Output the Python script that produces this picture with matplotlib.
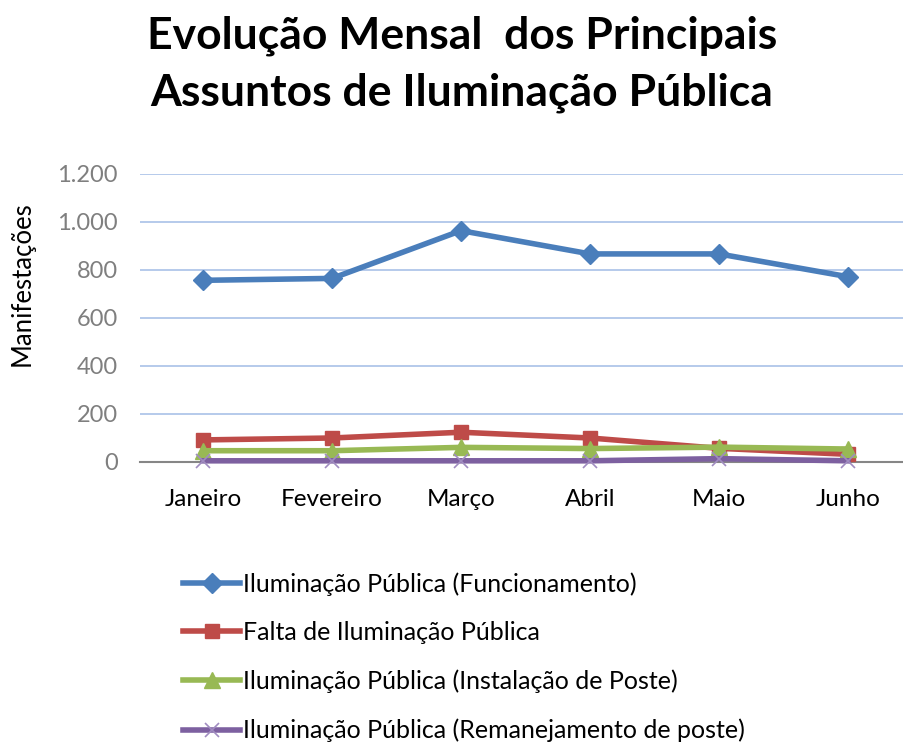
import matplotlib
matplotlib.use("Agg")
import matplotlib.pyplot as plt
from matplotlib.ticker import FuncFormatter

months = ["Janeiro", "Fevereiro", "Março", "Abril", "Maio", "Junho"]
funcionamento = [757, 765, 964, 867, 867, 772]
falta = [92, 100, 124, 100, 57, 32]
instalacao = [47, 47, 61, 56, 62, 54]
remanejamento = [5, 5, 5, 5, 14, 5]

labels = [
    "Iluminação Pública (Funcionamento)",
    "Falta de Iluminação Pública",
    "Iluminação Pública (Instalação de Poste)",
    "Iluminação Pública (Remanejamento de poste)",
]
yticks = [0, 200, 400, 600, 800, 1000, 1200]

plt.rcParams['font.family'] = ['Lato', 'DejaVu Sans']

W, H = 904, 742
fig = plt.figure(figsize=(W / 100, H / 100), dpi=100)
ax = fig.add_axes([140 / W, 1 - 462 / H, (904 - 140) / W, (462 - 174) / H])

x = list(range(len(months)))
series = [
    (funcionamento, "#4A7EBB", "D", 10, dict(markerfacecolor="#4A7EBB", markeredgecolor="#4A7EBB")),
    (falta, "#BE4B48", "s", 10, dict(markerfacecolor="#BE4B48", markeredgecolor="#BE4B48")),
    (instalacao, "#98B954", "^", 11, dict(markerfacecolor="#98B954", markeredgecolor="#98B954")),
    (remanejamento, "#7D60A0", "x", 10, dict(markeredgecolor="#A08CC0", markeredgewidth=1.2)),
]
handles = []
for (vals, col, mk, ms, kw), lab in zip(series, labels):
    h, = ax.plot(x, vals, color=col, lw=4, marker=mk, markersize=ms, label=lab,
                 clip_on=False, solid_joinstyle="round", zorder=3, **kw)
    handles.append(h)

ax.set_xlim(-63 / 129, (904 - 203) / 129)
ax.set_ylim(0, 1200)
ax.set_yticks(yticks)
ax.yaxis.set_major_formatter(FuncFormatter(lambda v, p: f"{int(v):,}".replace(",", ".")))
ax.set_xticks(x)
ax.set_xticklabels(months)
ax.tick_params(axis="y", length=0, labelsize=17, labelcolor="#7F7F7F", pad=16)
ax.tick_params(axis="x", length=0, labelsize=17.5, labelcolor="black", pad=19.5)
for s in ["top", "right", "left"]:
    ax.spines[s].set_visible(False)
ax.spines["bottom"].set_color("#868686")
ax.spines["bottom"].set_linewidth(1.5)
ax.grid(axis="y", color="#A9C1E8", lw=1.2)
ax.set_axisbelow(True)

fig.text(22 / W, 1 - 284 / H, "Manifestações", rotation=90, ha="center", va="center", fontsize=18.5)

fig.text(462 / W, 1 - 36 / H, "Evolução Mensal  dos Principais", ha="center", va="center",
         fontsize=32, fontweight="bold")
fig.text(462 / W, 1 - 93 / H, "Assuntos de Iluminação Pública", ha="center", va="center",
         fontsize=32, fontweight="bold")

fig.legend(handles=handles, labels=labels, loc="upper left",
           bbox_to_anchor=(173 / W, 1 - 562 / H), frameon=False, fontsize=18,
           handlelength=2.3, handletextpad=0.1, labelspacing=1.02, borderaxespad=0)

fig.savefig("out.png", dpi=100)
